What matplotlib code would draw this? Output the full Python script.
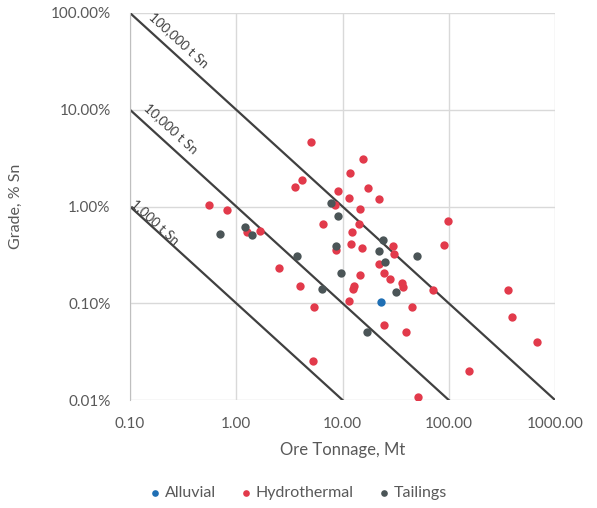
import numpy as np
import matplotlib
matplotlib.use("Agg")
import matplotlib.pyplot as plt
from matplotlib.ticker import FixedLocator, FuncFormatter, NullLocator

plt.rcParams["font.family"] = ["Lato", "DejaVu Sans"]

# ore tonnage (Mt) and grade (% Sn)
alluvial_mt = [23.0]
alluvial_grade = [0.103]

hydro_mt = [0.55, 0.82, 1.26, 1.67, 2.5, 4.0, 5.4, 5.3, 5.0, 4.2, 3.6, 15.6, 11.8,
            17.4, 22.0, 9.1, 11.5, 8.5, 14.6, 6.6, 14.3, 12.3, 8.7, 12.0, 15.3,
            30.0, 30.5, 90.0, 98.0, 22.0, 14.6, 24.6, 28.0, 12.8, 12.5, 36.0,
            37.0, 71.0, 360.0, 11.5, 45.0, 390.0, 24.6, 40.0, 680.0, 155.0, 51.0]
hydro_grade = [1.03, 0.92, 0.55, 0.56, 0.23, 0.15, 0.092, 0.025, 4.6, 1.9, 1.6, 3.1,
               2.2, 1.55, 1.2, 1.45, 1.22, 1.04, 0.94, 0.66, 0.66, 0.55, 0.355,
               0.41, 0.37, 0.39, 0.32, 0.40, 0.71, 0.255, 0.196, 0.205, 0.18,
               0.15, 0.14, 0.162, 0.147, 0.137, 0.137, 0.105, 0.092, 0.072, 0.06,
               0.05, 0.04, 0.02, 0.0107]

tail_mt = [0.70, 1.21, 1.41, 3.7, 7.8, 9.1, 24.0, 8.7, 22.0, 50.0, 25.0, 9.7,
           32.0, 6.4, 17.0]
tail_grade = [0.52, 0.61, 0.51, 0.31, 1.09, 0.80, 0.45, 0.39, 0.35, 0.31, 0.267,
              0.205, 0.13, 0.14, 0.05]

# contained tin lines (t Sn)
contained_t = [1000, 10000, 100000]
line_labels = ["1,000 t Sn", "10,000 t Sn", "100,000 t Sn"]
label_pos = [(0.172, 0.69), (0.243, 6.47), (0.289, 52.6)]

x_ticks = [0.1, 1, 10, 100, 1000]
y_ticks = [0.01, 0.1, 1, 10, 100]

fig = plt.figure(figsize=(5.97, 5.08), dpi=100)
ax = fig.add_axes([130 / 597, 1 - 400 / 508, 425 / 597, 387 / 508])
ax.set_xscale("log")
ax.set_yscale("log")
ax.set_xlim(0.1, 1000)
ax.set_ylim(0.01, 100)

grid_c = "#d9d9d9"
ax.xaxis.set_major_locator(FixedLocator(x_ticks))
ax.yaxis.set_major_locator(FixedLocator(y_ticks))
ax.xaxis.set_minor_locator(NullLocator())
ax.yaxis.set_minor_locator(NullLocator())
ax.xaxis.set_major_formatter(FuncFormatter(lambda v, p: f"{v:.2f}"))
ax.yaxis.set_major_formatter(FuncFormatter(lambda v, p: f"{v:.2f}%"))
ax.grid(True, color=grid_c, linewidth=1.0)
ax.set_axisbelow(True)
for s in ["top", "right", "bottom"]:
    ax.spines[s].set_visible(False)
ax.spines["left"].set_color("#bfbfbf")
ax.tick_params(length=0, labelsize=11, colors="#595959", pad=12)
ax.tick_params(axis="y", pad=14)

# contained-metal diagonals: grade% = t / (Mt * 1e4)
xs = np.array([0.1, 1000])
for t, lab, (lx, ly) in zip(contained_t, line_labels, label_pos):
    g = t / (xs * 1e4)
    ax.plot(xs, g, color="#404040", linewidth=1.6, zorder=2)
    ax.text(lx, ly, lab, rotation=-42.3, ha="center", va="center",
            fontsize=9.5, color="#404040", zorder=3)

ms = 36
ax.scatter(hydro_mt, hydro_grade, s=ms, color="#e23a4b", label="Hydrothermal", zorder=4,
           linewidths=0)
ax.scatter(tail_mt, tail_grade, s=ms, color="#4b5557", label="Tailings", zorder=4,
           linewidths=0)
ax.scatter(alluvial_mt, alluvial_grade, s=ms, color="#1f6fb4", label="Alluvial", zorder=5,
           linewidths=0)

ax.set_xlabel("Ore Tonnage, Mt", fontsize=12, color="#595959", labelpad=8)
ax.set_ylabel("Grade, % Sn", fontsize=11.5, color="#595959", labelpad=20)

h, l = ax.get_legend_handles_labels()
order = [2, 0, 1]
fig.legend([h[i] for i in order], [l[i] for i in order], loc="center",
           bbox_to_anchor=(0.5, 1 - 493 / 508), ncol=3, frameon=False,
           fontsize=11.5, labelcolor="#595959", handletextpad=0.3,
           handlelength=0.6, columnspacing=1.6, markerscale=0.8)

fig.savefig("out.png", dpi=100)
